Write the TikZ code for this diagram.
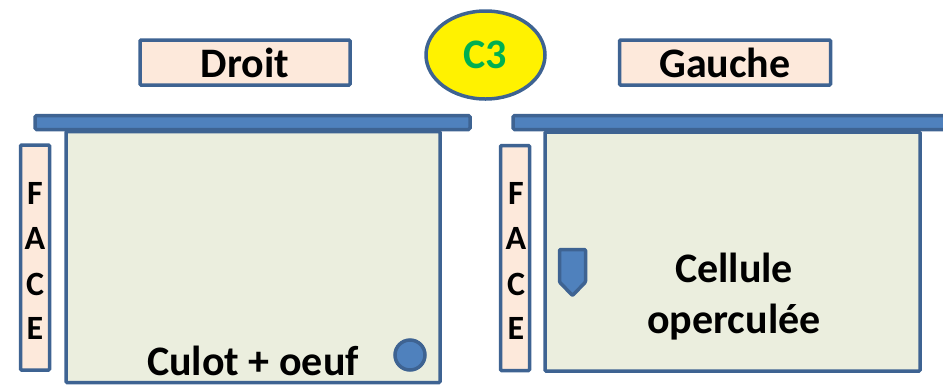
\documentclass[tikz,border=0pt]{standalone}
\usepackage{fontspec}
\setmainfont{Carlito}
\usetikzlibrary{shapes.geometric}
\definecolor{edge}{HTML}{3E6392}
\definecolor{peach}{HTML}{FDE9DB}
\definecolor{pale}{HTML}{EBEEDE}
\definecolor{barblue}{HTML}{4F81BD}
\definecolor{cgreen}{HTML}{00B050}
\tikzset{
  lbl/.style={draw=edge, line width=3.5pt, fill=peach, rounded corners=1pt, inner sep=0pt, font=\fontsize{42}{50}\selectfont\bfseries},
  facebox/.style={draw=edge, line width=3.5pt, fill=peach, rounded corners=1pt, inner sep=0pt, minimum width=29pt, minimum height=225pt},
  hive/.style={draw=edge, line width=3.5pt, fill=pale, rounded corners=1pt, inner sep=0pt},
  bar/.style={draw=edge, line width=3.5pt, fill=barblue, rounded corners=1.5pt, inner sep=0pt, minimum height=14pt},
  letter/.style={font=\fontsize{34}{40}\selectfont\bfseries, inner sep=0pt},
  bigtxt/.style={font=\fontsize{42}{51}\selectfont\bfseries, inner sep=0pt, align=center},
}
\begin{document}
\begin{tikzpicture}[x=1pt,y=-1pt]
\useasboundingbox (0,0) rectangle (943,384);
\clip (0,0) rectangle (943,384);
% left hive
\node[hive, minimum width=374pt, minimum height=251pt] (boxL) at (253,257) {};
\node[bar, minimum width=435pt] (barL) at (252.5,122.5) {};
\node[facebox] (faceL) at (35,257.5) {};
\node[letter] (fL) at (35,193) {F};
\node[letter] (aL) at (35,238) {A};
\node[letter] (cL) at (35,284) {C};
\node[letter] (eL) at (35,328) {E};
\node[bigtxt, anchor=base] (culot) at (253,375) {Culot + oeuf};
\node[circle, draw=edge, line width=3.5pt, fill=barblue, minimum size=30pt, inner sep=0pt] (egg) at (410,355) {};
% right hive
\node[hive, minimum width=375pt, minimum height=239pt] (boxR) at (732.5,251.5) {};
\node[bar, minimum width=450pt] (barR) at (738,122.5) {};
\node[facebox] (faceR) at (515,258) {};
\node[letter] (fR) at (516,193) {F};
\node[letter] (aR) at (516,238) {A};
\node[letter] (cR) at (516,284) {C};
\node[letter] (eR) at (516,328) {E};
\node[bigtxt, anchor=base] (cell) at (734,333) {Cellule\\operculée};
\draw[draw=edge, line width=3.5pt, fill=barblue, line join=round, rounded corners=1pt]
  (559.5,249.5) -- (585.5,249.5) -- (585.5,282) -- (572.5,295.5) -- (559.5,282) -- cycle;
% labels
\node[lbl, minimum width=210pt, minimum height=45pt] (droit) at (245,62.5) {Droit};
\node[lbl, minimum width=211pt, minimum height=45pt] (gauche) at (725,62.5) {Gauche};
\node[ellipse, draw=edge, line width=3.5pt, fill=yellow, minimum width=119pt, minimum height=88pt, inner sep=0pt, text=cgreen, font=\fontsize{42}{50}\selectfont\bfseries] (c3) at (485.5,55) {C3};
\end{tikzpicture}
\end{document}
